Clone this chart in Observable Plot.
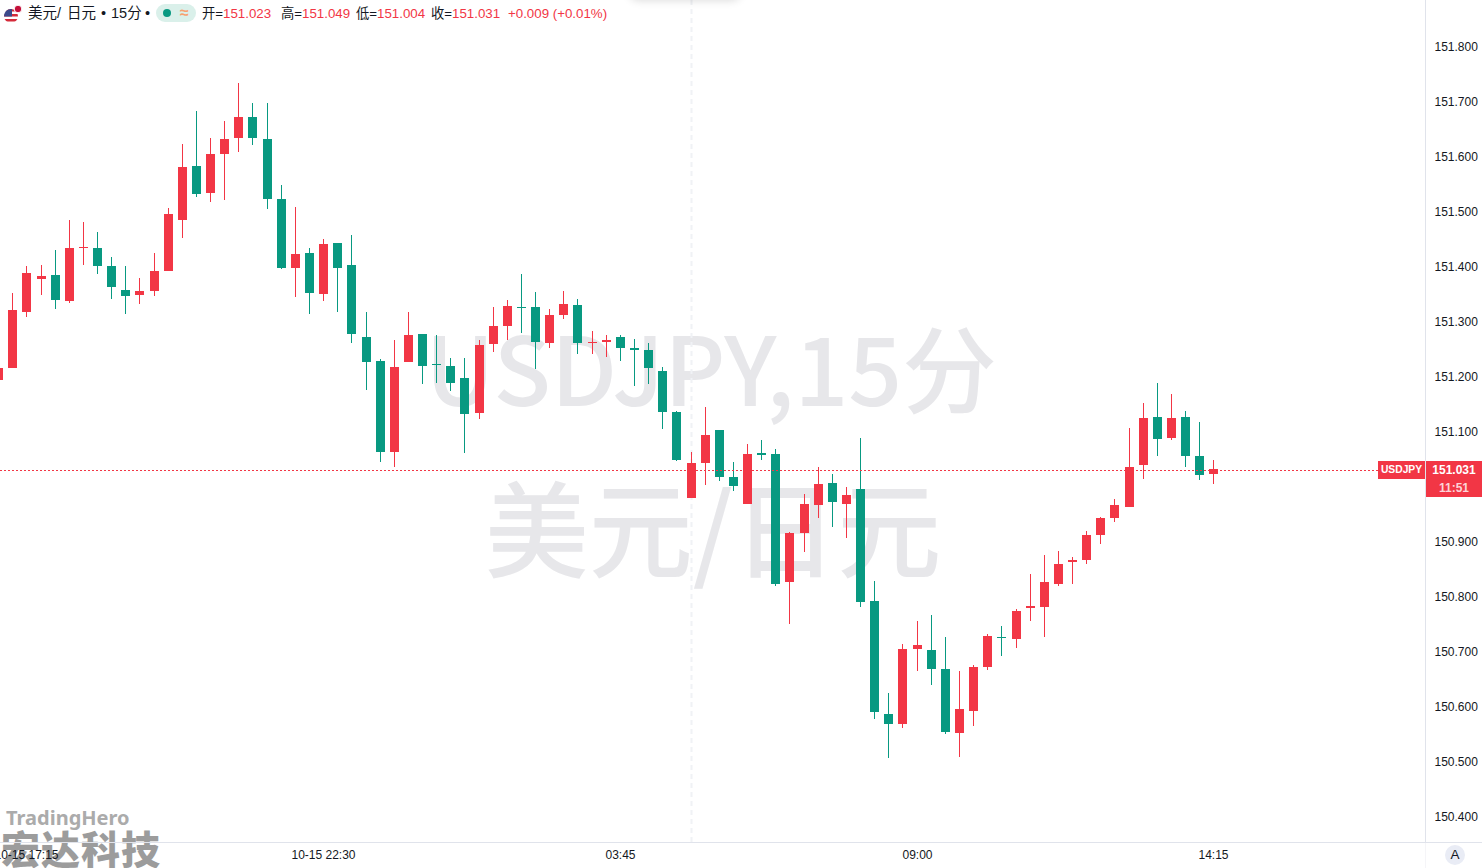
<!DOCTYPE html>
<html><head><meta charset="utf-8">
<script src="https://cdn.jsdelivr.net/npm/d3@7"></script>
<script src="https://cdn.jsdelivr.net/npm/@observablehq/plot@0.6"></script>
<style>
html,body{margin:0;padding:0;background:#fff;overflow:hidden;width:1482px;height:868px;}
#wrap{position:relative;width:1482px;height:868px;overflow:hidden;background:#fff;font-family:"Liberation Sans",Arial,sans-serif;}
svg{display:block;}
#wrap>svg{position:relative;}
.ov{position:absolute;white-space:nowrap;}
.lab{position:absolute;background:#f23645;color:#fff;font:bold 12px "Liberation Sans",Arial,sans-serif;text-align:center;line-height:18px;height:18px;}
#hdr{left:0;top:0;height:26px;font:13.3px "Liberation Sans","Noto Sans CJK SC",sans-serif;color:#131722;}
#hdr span{position:absolute;top:5px;line-height:17px;white-space:nowrap;}
#hdr .n{font-size:14.5px;top:5px;}
#hdr .r{color:#f23645;}
</style></head><body><div id="wrap"></div>
<script>
const opens=[151.194,151.215,151.317,151.377,151.385,151.337,151.433,151.434,151.401,151.357,151.348,151.355,151.392,151.485,151.583,151.534,151.605,151.634,151.672,151.632,151.523,151.397,151.425,151.350,151.443,151.403,151.272,151.228,151.063,151.226,151.277,151.223,151.219,151.197,151.134,151.259,151.292,151.326,151.326,151.261,151.312,151.330,151.260,151.263,151.272,151.252,151.248,151.210,151.135,150.979,151.043,151.103,151.017,150.968,151.061,151.059,150.826,150.915,150.966,151.006,150.968,150.995,150.792,150.586,150.568,150.705,150.703,150.668,150.552,150.592,150.672,150.726,150.723,150.779,150.781,150.823,150.863,150.866,150.912,150.943,150.963,151.039,151.126,151.088,151.126,151.055,151.023];
const highs=[151.215,151.352,151.401,151.403,151.430,151.485,151.481,151.463,151.417,151.401,151.379,151.425,151.506,151.623,151.683,151.634,151.665,151.734,151.697,151.697,151.548,151.508,151.434,151.450,151.443,151.457,151.317,151.232,151.266,151.317,151.277,151.275,151.234,151.234,151.266,151.326,151.339,151.386,151.354,151.323,151.355,151.341,151.283,151.275,151.275,151.268,151.261,151.217,151.137,151.063,151.145,151.103,151.045,151.077,151.085,151.068,150.917,150.986,151.035,151.023,150.999,151.088,150.828,150.625,150.714,150.755,150.766,150.726,150.665,150.675,150.732,150.746,150.777,150.841,150.875,150.883,150.872,150.919,150.945,150.977,151.106,151.152,151.188,151.168,151.137,151.117,151.049];
const lows=[151.194,151.215,151.308,151.348,151.323,151.334,151.403,151.386,151.341,151.314,151.332,151.346,151.392,151.452,151.526,151.517,151.521,151.608,151.621,151.505,151.395,151.345,151.314,151.337,151.317,151.261,151.175,151.045,151.035,151.226,151.186,151.188,151.174,151.061,151.123,151.245,151.266,151.279,151.214,151.252,151.305,151.241,151.241,151.235,151.228,151.183,151.186,151.105,151.046,150.979,151.003,151.010,150.992,150.968,151.048,150.819,150.750,150.881,150.943,150.926,150.906,150.781,150.577,150.506,150.561,150.665,150.639,150.550,150.508,150.565,150.666,150.692,150.706,150.755,150.726,150.819,150.823,150.859,150.895,150.935,150.963,151.014,151.055,151.085,151.035,151.012,151.004];
const closes=[151.215,151.321,151.388,151.383,151.339,151.434,151.436,151.401,151.363,151.346,151.355,151.392,151.495,151.581,151.532,151.605,151.632,151.672,151.634,151.523,151.397,151.423,151.352,151.441,151.397,151.277,151.226,151.063,151.217,151.275,151.219,151.220,151.188,151.132,151.257,151.292,151.328,151.324,151.263,151.312,151.332,151.261,151.263,151.266,151.252,151.249,151.215,151.135,151.048,151.043,151.094,151.017,151.001,151.059,151.058,150.823,150.915,150.968,151.005,150.972,150.985,150.790,150.590,150.568,150.705,150.712,150.668,150.554,150.595,150.672,150.728,150.724,150.774,150.783,150.826,150.859,150.866,150.912,150.943,150.966,151.035,151.125,151.086,151.125,151.055,151.021,151.031];
const xTickIndex=[2,23,44,65,86];
const xTickLabels=["10-15 17:15","10-15 22:30","03:45","09:00","14:15"];
const yTicks=[150.4,150.5,150.6,150.7,150.8,150.9,151.0,151.1,151.2,151.3,151.4,151.5,151.6,151.7,151.8];
const sessionBreak=[49];
const lastClose=[151.031];
const symbolLabel="USDJPY", lastLabel="151.031", countdown="11:51";
const wmLine1="USDJPY,15分", wmLine2="美元/日元";

const UP="#f23645", DOWN="#089981";
const idx=d3.range(opens.length);
const col=i=>closes[i]>=opens[i]?UP:DOWN;

const chart=Plot.plot({
  width:1482,height:868,marginTop:0,marginBottom:26,marginLeft:0,marginRight:57,
  style:{background:"transparent",fontFamily:'"Liberation Sans",Arial,sans-serif'},
  x:{type:"linear",domain:[0.133,100.98],round:true},
  y:{type:"linear",domain:[150.3536,151.8845],round:true},
  marks:[
    Plot.text([wmLine1],{frameAnchor:"top",dy:375,dx:-2,text:d=>d,fontSize:94.5,fontWeight:500,fill:"#e7e7ea",fontFamily:'"Noto Sans CJK SC",sans-serif',textAnchor:"middle",lineAnchor:"middle"}),
    Plot.text([wmLine2],{frameAnchor:"top",dy:536,dx:0,text:d=>d,fontSize:104,fontWeight:500,fill:"#e7e7ea",fontFamily:'"Noto Sans CJK SC",sans-serif',textAnchor:"middle",lineAnchor:"middle"}),
    Plot.ruleX(sessionBreak,{x:d=>d,stroke:"#f0f2f5",strokeWidth:2,strokeDasharray:"5,4"}),
    Plot.ruleX(idx,{x:i=>i,y1:i=>lows[i],y2:i=>highs[i],stroke:col,strokeWidth:1}),
    Plot.ruleX(idx,{x:i=>i,y1:i=>opens[i],y2:i=>closes[i],stroke:col,strokeWidth:9}),
    Plot.ruleY(lastClose,{y:d=>d,dy:1,stroke:UP,strokeOpacity:1,strokeWidth:1,strokeDasharray:"2,2"}),
    Plot.axisY(yTicks,{anchor:"right",tickSize:0,tickPadding:9,tickFormat:".3f",fontSize:12,label:null,fill:"#131722",dy:1}),
    Plot.axisX(xTickIndex,{anchor:"bottom",tickSize:0,tickPadding:8,tickFormat:(d,k)=>xTickLabels[xTickIndex.indexOf(d)],fontSize:12,label:null,fill:"#131722"}),
    Plot.frame({anchor:"right",stroke:"#e0e3eb"}),
    Plot.frame({anchor:"bottom",stroke:"#e0e3eb"})
  ]
});
const wrap=document.getElementById("wrap");

const logo=document.createElement("div");logo.className="ov";
logo.style.cssText="left:0;top:0;";
logo.innerHTML=`<div style="position:absolute;left:6px;top:807px;font:bold 20px/22px 'Noto Sans','Liberation Sans',sans-serif;color:#ababab">TradingHero</div>
<div style="position:absolute;left:1px;top:826px;font:900 39px/42px 'Noto Sans CJK SC',sans-serif;color:#9c9c9c;letter-spacing:1px">宏达科技</div>`;
wrap.appendChild(logo);

wrap.appendChild(chart);
const yp=chart.scale("y").apply(lastClose[0])+1;
function lab(t,l,w,top,c,fs){const d=document.createElement("div");d.className="lab";d.textContent=t;d.style.left=l+"px";d.style.width=w+"px";d.style.top=top+"px";if(c)d.style.color=c;if(fs)d.style.fontSize=fs+"px";wrap.appendChild(d);}
lab(symbolLabel,1378,47,Math.round(yp)-9,null,10.3);
lab(lastLabel,1426,56,Math.round(yp)-9);
lab(countdown,1426,56,Math.round(yp)+9,"#fcd3d7");

const ext=document.createElement("div");ext.className="ov";
ext.style.cssText="left:1425px;top:842px;width:57px;height:1px;background:#e0e3eb;";
wrap.appendChild(ext);
const ext2=document.createElement("div");ext2.className="ov";
ext2.style.cssText="left:1425px;top:843px;width:1px;height:25px;background:#f5f5f8;";
wrap.appendChild(ext2);

const shadow=document.createElement("div");shadow.className="ov";
shadow.style.cssText="left:630px;top:-20px;width:110px;height:18px;border-radius:8px;box-shadow:0 2px 10px rgba(0,0,0,.16);background:#fff;";
wrap.appendChild(shadow);

const hdr=document.createElement("div");hdr.id="hdr";hdr.className="ov";
hdr.innerHTML=`
<svg width="20" height="20" style="position:absolute;left:3px;top:5px" viewBox="0 0 20 20"><defs><clipPath id="cf"><circle cx="8" cy="11" r="7"/></clipPath></defs><g clip-path="url(#cf)"><rect width="20" height="20" fill="#fff"/><rect y="4" width="20" height="2.5" fill="#d52b3a"/><rect y="9" width="20" height="2.5" fill="#d52b3a"/><rect y="14" width="20" height="2.5" fill="#d52b3a"/><rect y="4" width="9" height="7.5" fill="#3b4a8c"/></g><circle cx="15" cy="4" r="3.8" fill="#c4103a" stroke="#fff"/></svg>
<span class="n" style="left:28px">美元/</span><span class="n" style="left:67px">日元</span><span class="n" style="left:101px">•</span><span class="n" style="left:111px">15分</span><span class="n" style="left:145px">•</span>
<span style="left:156px;top:4px;width:40px;height:18px;border-radius:9px;background:#daf0ea"></span>
<svg width="10" height="10" style="position:absolute;left:162px;top:8px"><circle cx="5" cy="5" r="4" fill="#089981"/></svg>
<span style="left:180px;top:4px;color:#f7a071;font-weight:bold;font-size:16px">≈</span>
<span style="left:202px">开=<b class="r" style="font-weight:normal">151.023</b></span>
<span style="left:281px">高=<b class="r" style="font-weight:normal">151.049</b></span>
<span style="left:356px">低=<b class="r" style="font-weight:normal">151.004</b></span>
<span style="left:431px">收=<b class="r" style="font-weight:normal">151.031</b></span>
<span class="r" style="left:508px">+0.009 (+0.01%)</span>`;
wrap.appendChild(hdr);

const a=document.createElement("div");a.className="ov";a.textContent="A";
a.style.cssText="left:1445px;top:845px;width:20px;height:20px;border-radius:10px;background:#e9ecf5;color:#131722;font:13.5px/20px 'Liberation Sans',Arial,sans-serif;text-align:center;";
wrap.appendChild(a);
</script></body></html>
